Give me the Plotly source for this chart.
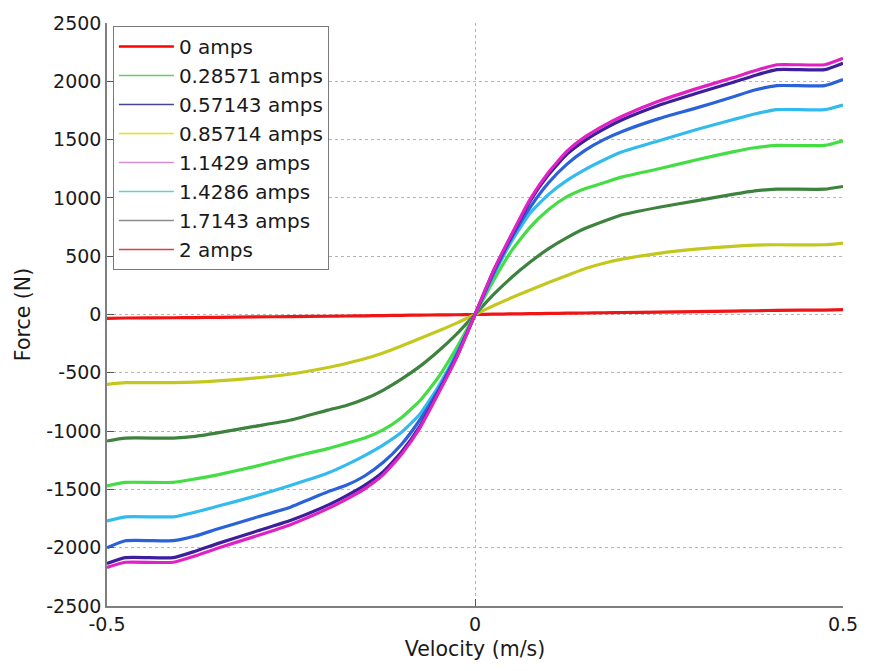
import plotly.graph_objects as go

# ---------------- data ----------------
velocity = [-0.5, -0.475, -0.41, -0.38, -0.35, -0.3, -0.25, -0.2, -0.175, -0.15,
            -0.125, -0.1, -0.075, -0.05, -0.025, 0.0,
            0.025, 0.05, 0.075, 0.1, 0.125, 0.15, 0.175, 0.2, 0.25, 0.3,
            0.35, 0.38, 0.41, 0.475, 0.5]

force_red = [-33, -30, -28, -26, -24, -21, -18, -15, -13, -11, -9, -7, -5, -4, -2, 0,
             3, 5, 7, 9, 11, 13, 15, 17, 21, 25, 29, 32, 36, 38, 42]
force_yellow = [-600, -585, -585, -580, -570, -545, -510, -455, -420, -380, -330, -270, -205, -142, -74, 0,
                75, 145, 210, 275, 335, 395, 440, 475, 525, 560, 585, 595, 598, 598, 612]
force_darkgreen = [-1085, -1060, -1060, -1045, -1015, -960, -905, -820, -780, -725, -650, -555, -445, -315, -168, 0,
                   170, 320, 450, 565, 660, 740, 800, 855, 920, 975, 1030, 1060, 1075, 1075, 1098]
force_green = [-1470, -1440, -1440, -1410, -1375, -1305, -1225, -1150, -1105, -1060, -990, -885, -740, -540, -285, 0,
               290, 550, 750, 900, 1010, 1080, 1130, 1180, 1250, 1325, 1395, 1430, 1450, 1450, 1490]
force_cyan = [-1770, -1735, -1735, -1695, -1645, -1560, -1465, -1360, -1290, -1210, -1120, -1010, -855, -620, -330, 0,
              335, 630, 870, 1030, 1150, 1245, 1325, 1395, 1490, 1585, 1670, 1720, 1757, 1757, 1797]
force_blue = [-2000, -1940, -1940, -1900, -1840, -1745, -1650, -1520, -1465, -1385, -1270, -1115, -905, -650, -345, 0,
              350, 660, 920, 1130, 1290, 1410, 1500, 1570, 1680, 1770, 1865, 1925, 1963, 1963, 2015]
force_navy = [-2135, -2085, -2085, -2030, -1965, -1865, -1765, -1635, -1555, -1465, -1350, -1180, -960, -670, -365, 0,
              370, 680, 975, 1200, 1375, 1495, 1590, 1670, 1795, 1895, 1990, 2050, 2100, 2100, 2155]
force_magenta = [-2170, -2125, -2125, -2070, -2005, -1905, -1800, -1665, -1585, -1495, -1375, -1200, -975, -680, -370, 0,
                 375, 690, 990, 1220, 1400, 1525, 1620, 1700, 1830, 1935, 2030, 2090, 2142, 2142, 2197]

curves = [force_red, force_yellow, force_darkgreen, force_green,
          force_cyan, force_blue, force_navy, force_magenta]
curve_colors = ["#f01414", "#c4c81e", "#3d833d", "#44dd44",
                "#33bbee", "#2b62d9", "#3c1f9c", "#e021c4"]

legend_names = ["0 amps", "0.28571 amps", "0.57143 amps", "0.85714 amps",
                "1.1429 amps", "1.4286 amps", "1.7143 amps", "2 amps"]
legend_colors = ["#ff0000", "#66cc66", "#44448f", "#e6e600",
                 "#d08fd0", "#5fd0d0", "#8c8c8c", "#d94040"]

x_ticks = [-0.5, 0, 0.5]
x_ticktext = ["-0.5", "0", "0.5"]
y_ticks = [-2500, -2000, -1500, -1000, -500, 0, 500, 1000, 1500, 2000, 2500]
y_ticktext = ["-2500", "-2000", "-1500", "-1000", "-500", "0",
              "500", "1000", "1500", "2000", "2500"]

FONT = "DejaVu Sans"

fig = go.Figure()

for f, c in zip(curves, curve_colors):
    fig.add_trace(go.Scatter(x=velocity, y=f, mode="lines",
                             line=dict(color=c, width=3.2, shape="spline", smoothing=0.5),
                             showlegend=False, hoverinfo="skip"))

# legend entries (as in the reference legend)
for i, (n, c) in enumerate(zip(legend_names, legend_colors)):
    fig.add_trace(go.Scatter(x=[None], y=[None], mode="lines", name=n,
                             line=dict(color=c, width=2.5 if i == 0 else 1.5)))

fig.update_layout(
    width=870, height=671,
    margin=dict(l=107, r=20, t=20, b=65),
    paper_bgcolor="white", plot_bgcolor="white",
    font=dict(family=FONT, size=19, color="#1a1a1a"),
    showlegend=True,
    legend=dict(x=0.008, y=0.995, xanchor="left", yanchor="top",
                bgcolor="white", bordercolor="#7a7a7a", borderwidth=1,
                font=dict(family=FONT, size=20, color="#1a1a1a"),
                itemwidth=55),
)

fig.update_xaxes(range=[-0.5, 0.5], tickvals=x_ticks, ticktext=x_ticktext,
                 showgrid=True, gridcolor="#b5b5b5", griddash="dot", gridwidth=1,
                 zeroline=False, showline=True, linecolor="#7f7f7f", linewidth=1.5,
                 ticks="inside", ticklen=7, tickcolor="#555555",
                 tickfont=dict(family=FONT, size=19),
                 title=dict(text="Velocity (m/s)", font=dict(family=FONT, size=20.5),
                            standoff=8))
fig.update_yaxes(range=[-2500, 2500], tickvals=y_ticks, ticktext=y_ticktext,
                 showgrid=True, gridcolor="#b5b5b5", griddash="dot", gridwidth=1,
                 zeroline=False, showline=True, linecolor="#7f7f7f", linewidth=1.5,
                 ticks="inside", ticklen=7, tickcolor="#555555",
                 tickfont=dict(family=FONT, size=19),
                 title=dict(text="Force (N)", font=dict(family=FONT, size=20.5),
                            standoff=10))

fig.write_html("out.html")
